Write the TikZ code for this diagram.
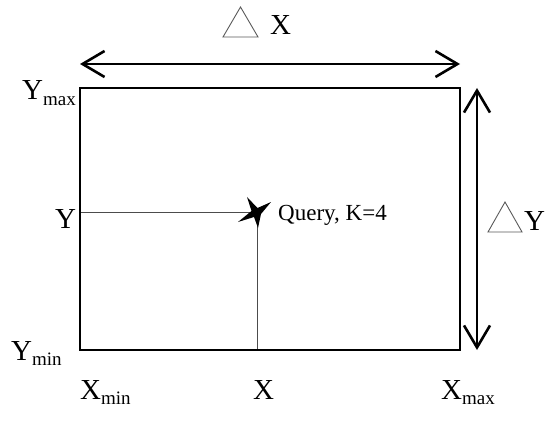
\documentclass[tikz,border=0pt]{standalone}
\usepackage{fontspec}
\setmainfont{Liberation Serif}
\usetikzlibrary{arrows.meta}
\newcommand\lbl{\fontsize{29}{29}\selectfont}
\newcommand\subtx[1]{\raisebox{-0.2em}{\fontsize{19}{19}\selectfont #1}}
\tikzset{
  frame/.style={line width=2.8pt},
  dimarrow/.style={line width=2.8pt, {Straight Barb[length=22pt,width=26pt,line width=2.6pt]}-{Straight Barb[length=22pt,width=26pt,line width=2.6pt]}},
  guide/.style={line width=0.8pt, black!70},
  deltatri/.style={line width=0.9pt, black!65, line join=miter},
  txt/.style={inner sep=0pt, anchor=base west, font=\lbl},
}
\begin{document}
\begin{tikzpicture}[x=1pt,y=-1pt]
\useasboundingbox (0,0) rectangle (545,430);
% corners
\coordinate (tl) at (80,88);
\coordinate (br) at (460,350);
\coordinate (q) at (257,212);
\coordinate (ly) at (80,212);
\coordinate (bx) at (257,350);
% guide lines
\draw[guide] (ly) -- (q) -- (bx);
% rectangle
\draw[frame] (tl) rectangle (br);
% star (query point)
\fill[black] (247,197) -- (257.5,208) -- (271,202) -- (261,214) -- (258,228)
  -- (254,217) -- (238,222) -- (251.5,211) -- cycle;
% dimension arrows
\coordinate (ha) at (80,64);
\coordinate (hb) at (460,64);
\coordinate (va) at (477,88);
\coordinate (vb) at (477,350);
\draw[dimarrow] (ha) -- (hb);
\draw[dimarrow] (va) -- (vb);
% delta triangles
\coordinate (tx1) at (223,37); \coordinate (tx2) at (258,37); \coordinate (tx3) at (240.5,7);
\draw[deltatri] (tx1) -- (tx2) -- (tx3) -- cycle;
\coordinate (ty1) at (488,232); \coordinate (ty2) at (522,232); \coordinate (ty3) at (505,202);
\draw[deltatri] (ty1) -- (ty2) -- (ty3) -- cycle;
% labels
\node[txt] (dx) at (270,35) {X};
\node[txt] (dy) at (524,230) {Y};
\node[txt] (ymax) at (22,100) {Y\subtx{max}};
\node[txt] (yq) at (55,228) {Y};
\node[txt] (ymin) at (11,360) {Y\subtx{min}};
\node[txt] (xmin) at (80,399) {X\subtx{min}};
\node[txt] (xq) at (253,399) {X};
\node[txt] (xmax) at (441,399) {X\subtx{max}};
\node[inner sep=0pt, anchor=base west, font=\fontsize{23}{23}\selectfont] (query) at (278,220) {Query, K=4};
\end{tikzpicture}
\end{document}
